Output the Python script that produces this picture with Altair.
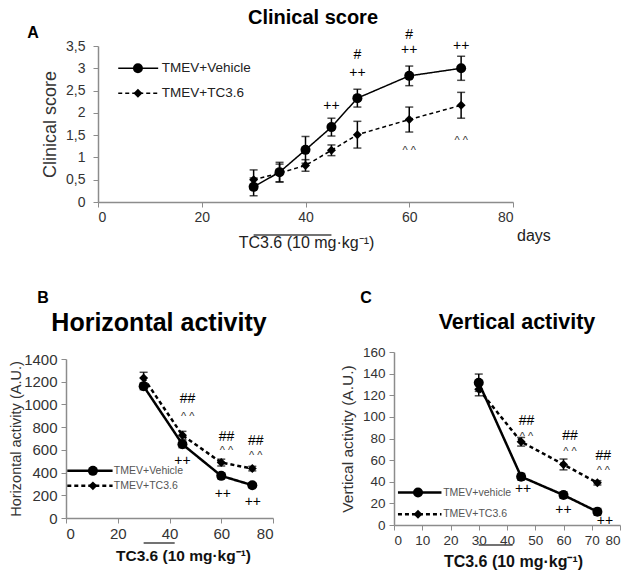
import altair as alt
import pandas as pd

FONT = "Liberation Sans"
SERIES = ["TMEV+Vehicle", "TMEV+TC3.6"]

# ---------------- Panel A : clinical score ----------------
a_days = [30, 35, 40, 45, 50, 60, 70]
a_veh = [0.34, 0.67, 1.17, 1.68, 2.33, 2.83, 3.00]
a_veh_err = [0.20, 0.22, 0.30, 0.20, 0.20, 0.22, 0.27]
a_tc = [0.50, 0.65, 0.82, 1.16, 1.51, 1.85, 2.17]
a_tc_err = [0.22, 0.20, 0.13, 0.12, 0.30, 0.28, 0.29]
a_ann_x = [45, 50, 50, 60, 60, 70, 60, 70]
a_ann_y = [2.15, 2.9, 3.3, 3.4, 3.75, 3.5, 1.22, 1.44]
a_ann_t = ["++", "++", "#", "++", "#", "++", "^ ^", "^ ^"]
a_leg_y = [3.0, 2.44]
a_leg_x = [3.9, 11.6, 7.7, 12.3]  # line start, line end, marker, label
a_yticks = [0, 0.5, 1, 1.5, 2, 2.5, 3, 3.5]

# ---------------- Panel B : horizontal activity ----------------
b_days = [30, 45, 60, 72]
b_veh = [1160, 649, 371, 289]
b_veh_err = [30, 30, 25, 20]
b_tc = [1233, 728, 488, 435]
b_tc_err = [50, 35, 30, 20]
b_ann_x = [47, 47, 62, 62, 73.3, 73.3, 45, 60.6, 72.2]
b_ann_y = [1046, 915, 715, 615, 678, 575, 503, 213, 137]
b_ann_t = ["##", "^ ^", "##", "^ ^", "##", "^ ^", "++", "++", "++"]
b_leg_y = [415, 283]
b_leg_x = [0.5, 18, 10.4, 18.5]
b_legend_labels = ["TMEV+Vehicle", "TMEV+TC3.6"]

# ---------------- Panel C : vertical activity ----------------
c_days = [30, 45, 60, 72]
c_veh = [131.6, 44.7, 27.7, 12.3]
c_veh_err = [8, 3, 3, 3]
c_tc = [125.5, 77, 56, 39]
c_tc_err = [6, 4, 5, 2]
c_ann_x = [46.9, 46.9, 62.3, 62.3, 74.1, 74.1, 45.7, 60, 74.7]
c_ann_y = [96, 84, 82, 70, 64, 53, 33, 13.6, 3.7]
c_ann_t = ["##", "^ ^", "##", "^ ^", "##", "^ ^", "++", "++", "++"]
c_leg_y = [30, 10]
c_leg_x = [1.4, 16.8, 8.5, 17.4]
c_legend_labels = ["TMEV+vehicle", "TMEV+TC3.6"]

TREAT = [30, 45]
TREAT_BC = [30, 42]


def panel(days, veh, veh_err, tc, tc_err, ann_x, ann_y, ann_t,
          leg_y, leg_x, leg_labels, ymax, yticks, xticks, w, h,
          lw, dash, msize, leg_msize, ann_size, caret_size,
          ytitle, ytitle_size, ytitle_pad, label_size, ylabel_pad, xtitle_bold,
          xtitle_size, xtitle_x, xtitle_pad, treat, bar_off, title, title_size,
          title_xy, letter, letter_xy, yfmt, leg_font, days_label=False):
    rows = []
    for s, vals, errs in ((SERIES[0], veh, veh_err), (SERIES[1], tc, tc_err)):
        for d, v, e in zip(days, vals, errs):
            rows.append({"series": s, "day": d, "val": v, "lo": v - e, "hi": v + e})
    df = pd.DataFrame(rows)

    xs = alt.Scale(domain=[0, 80], nice=False)
    ys = alt.Scale(domain=[0, ymax], nice=False)
    dash_scale = alt.Scale(domain=SERIES, range=[[1, 0], dash])
    shape_scale = alt.Scale(domain=SERIES, range=["circle", "diamond"])
    size_scale = alt.Scale(domain=SERIES, range=msize)

    yaxis_kw = dict(values=yticks, tickCount=len(yticks) + 2,
                    title=ytitle, titleFontSize=ytitle_size,
                    titlePadding=ytitle_pad, labelFontSize=label_size,
                    labelPadding=ylabel_pad,
                    titleFontWeight="normal", format=yfmt, labelOverlap=False)
    if yfmt != "d":
        yaxis_kw["labelExpr"] = "replace(datum.label, '.', ',')"
    yaxis = alt.Axis(**yaxis_kw)
    xaxis = alt.Axis(values=xticks, tickCount=len(xticks) + 2,
                     title="TC3.6 (10 mg·kg⁻¹)", format="d",
                     titleFontSize=xtitle_size, labelOverlap=False,
                     titleX=xtitle_x, titleAnchor="middle",
                     titleFontWeight="bold" if xtitle_bold else "normal",
                     titleColor="#111111" if xtitle_bold else "#222222",
                     titlePadding=xtitle_pad, labelFontSize=label_size)

    X = alt.X("day:Q", scale=xs, axis=xaxis)
    Y = alt.Y("val:Q", scale=ys, axis=yaxis)
    base = alt.Chart(df)

    line = base.mark_line(color="black", strokeWidth=lw).encode(
        x=X, y=Y,
        strokeDash=alt.StrokeDash("series:N", scale=dash_scale, legend=None),
        detail="series:N")
    pts = base.mark_point(filled=True, color="black", opacity=1).encode(
        x="day:Q", y="val:Q",
        shape=alt.Shape("series:N", scale=shape_scale, legend=None),
        size=alt.Size("series:N", scale=size_scale, legend=None))
    err = base.mark_rule(color="black", strokeWidth=1.5).encode(
        x="day:Q", y="lo:Q", y2="hi:Q")
    cap_lo = base.mark_tick(color="black", orient="horizontal", size=8,
                            thickness=1.5).encode(x="day:Q", y="lo:Q")
    cap_hi = base.mark_tick(color="black", orient="horizontal", size=8,
                            thickness=1.5).encode(x="day:Q", y="hi:Q")

    adf = pd.DataFrame({"x": ann_x, "y": ann_y, "t": ann_t})
    sym_df = adf[[("^" not in t) for t in ann_t]].reset_index(drop=True)
    car_df = adf[[("^" in t) for t in ann_t]].reset_index(drop=True)
    ann_sym = alt.Chart(sym_df).mark_text(
        font=FONT, fontSize=ann_size, fill="black", baseline="middle").encode(
        x="x:Q", y="y:Q", text="t:N")
    ann_car = alt.Chart(car_df).mark_text(
        font=FONT, fontSize=caret_size, fill="#333333", baseline="middle", dy=3).encode(
        x="x:Q", y="y:Q", text="t:N")

    ldf = pd.DataFrame({"series": SERIES, "label": leg_labels, "y": leg_y,
                        "x0": [leg_x[0]] * 2, "x1": [leg_x[1]] * 2,
                        "xm": [leg_x[2]] * 2, "xl": [leg_x[3]] * 2})
    leg_line = alt.Chart(ldf).mark_rule(color="black", strokeWidth=lw).encode(
        x="x0:Q", x2="x1:Q", y="y:Q",
        strokeDash=alt.StrokeDash("series:N", scale=dash_scale, legend=None))
    leg_pt = alt.Chart(ldf).mark_point(filled=True, color="black", opacity=1).encode(
        x="xm:Q", y="y:Q",
        shape=alt.Shape("series:N", scale=shape_scale, legend=None),
        size=alt.Size("series:N", scale=alt.Scale(domain=SERIES, range=leg_msize),
                      legend=None))
    leg_txt = alt.Chart(ldf).mark_text(
        font=FONT, fontSize=leg_font[0], align="left", baseline="middle",
        fill=leg_font[1]).encode(
        x="xl:Q", y="y:Q", text="label:N")

    tdf = pd.DataFrame({"a": [treat[0]], "b": [treat[1]]})
    bar = alt.Chart(tdf).mark_rule(color="#444444", strokeWidth=1.5).encode(
        x="a:Q", x2="b:Q", y=alt.value(h + bar_off))

    letter_mark = alt.Chart(tdf).mark_text(
        font=FONT, fontSize=16, fontWeight="bold", fill="black",
        align="center", baseline="middle").encode(
        x=alt.value(letter_xy[0]), y=alt.value(letter_xy[1]),
        text=alt.value(letter))
    title_mark = alt.Chart(tdf).mark_text(
        font=FONT, fontSize=title_size, fontWeight="bold", fill="black",
        align="center", baseline="middle").encode(
        x=alt.value(title_xy[0]), y=alt.value(title_xy[1]),
        text=alt.value(title))

    layers = [line, err, cap_lo, cap_hi, pts, ann_sym, ann_car,
              leg_line, leg_pt, leg_txt, bar, letter_mark, title_mark]
    if days_label:
        ddf = pd.DataFrame({"x": [80], "t": ["days"]})
        layers.append(alt.Chart(ddf).mark_text(
            font=FONT, fontSize=16, align="left", baseline="middle",
            fill="#222222", dx=4).encode(
            x="x:Q", y=alt.value(h + 34), text="t:N"))

    return alt.layer(*layers).properties(width=w, height=h)


A = panel(a_days, a_veh, a_veh_err, a_tc, a_tc_err, a_ann_x, a_ann_y, a_ann_t,
          a_leg_y, a_leg_x, SERIES, 3.5, a_yticks, [0, 20, 40, 60, 80], 415, 156,
          1.5, [4, 3], [100, 80], [100, 80], 14, 11,
          "Clinical score", 18, 6, 14, 8, False, 16, 208, 10, TREAT, 33,
          "Clinical score", 20, (215, -28), "A", (-65, -13), ".1~f", (13.5, "#222222"),
          days_label=True)

B = panel(b_days, b_veh, b_veh_err, b_tc, b_tc_err, b_ann_x, b_ann_y, b_ann_t,
          b_leg_y, b_leg_x, b_legend_labels, 1400, list(range(0, 1401, 200)),
          [0, 20, 40, 60, 80], 207, 159,
          2.5, [7, 5], [200, 230], [35, 40], 14, 11,
          "Horizontal activity (A.U.)", 14.5, 0, 15, 4, True, 15.5, 117, 7, TREAT_BC, 25,
          "Horizontal activity", 25, (93, -36), "B", (-23, -61), "d", (10.5, "#555555"))

C = panel(c_days, c_veh, c_veh_err, c_tc, c_tc_err, c_ann_x, c_ann_y, c_ann_t,
          c_leg_y, c_leg_x, c_legend_labels, 160, list(range(0, 161, 20)),
          list(range(0, 81, 10)), 226, 173,
          2.5, [7, 5], [200, 260], [35, 40], 14, 11,
          "Vertical activity (A.U.)", 15.5, 7, 13.5, 4, True, 16, 119, 7, TREAT_BC, 20,
          "Vertical activity", 21.5, (123, -29), "C", (-28, -54), "d", (10.5, "#555555"))


def spacer(w, h):
    return alt.Chart(pd.DataFrame({"v": [0]})).mark_point(opacity=0, size=1).encode(
        x=alt.X("v:Q", axis=None, scale=alt.Scale(domain=[0, 1])),
        y=alt.Y("v:Q", axis=None, scale=alt.Scale(domain=[0, 1]))
    ).properties(width=w, height=h)


row1 = alt.hconcat(spacer(32, 1), A, spacing=0, bounds="flush")
row2 = alt.hconcat(B, C, spacing=121, bounds="flush", center=True)

chart = alt.vconcat(row1, row2, spacing=40).properties(
    padding=0, background="white"
).configure_view(stroke=None).configure_axis(
    grid=False, domainColor="#8c8c8c", tickColor="#8c8c8c", domainWidth=1.5,
    labelColor="#333333", titleColor="#333333", labelFont=FONT, titleFont=FONT,
    tickSize=5, labelPadding=3
)

chart.save("out.html", embed_options={"renderer": "svg", "actions": False})
